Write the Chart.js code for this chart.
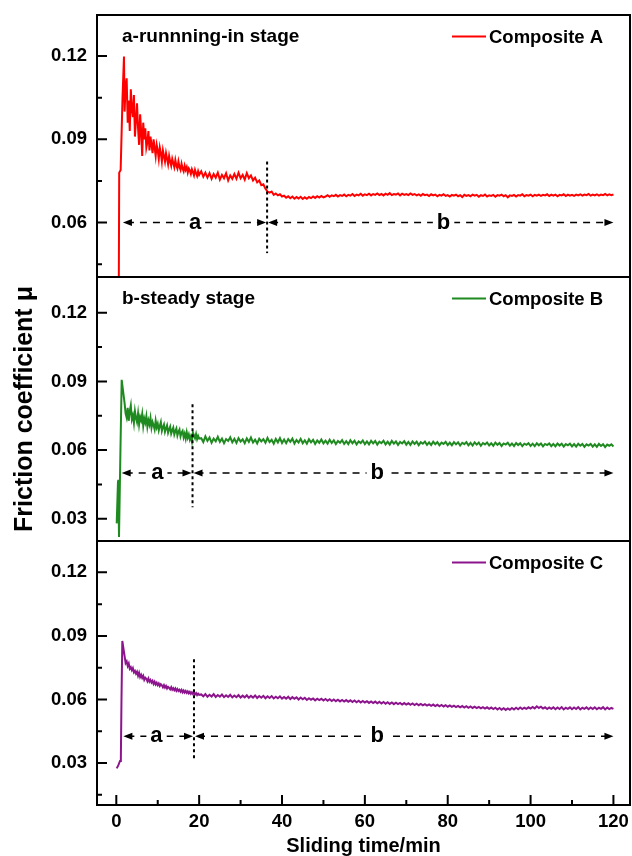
<!DOCTYPE html>
<html><head><meta charset="utf-8">
<script src="https://cdn.jsdelivr.net/npm/chart.js@4.4.1/dist/chart.umd.min.js"></script>
<style>html,body{margin:0;padding:0;background:#fff;}</style>
</head><body>
<canvas id="c" width="632" height="856"></canvas>
<script>
// ---------------- data ----------------
const seriesNames = ['Composite A', 'Composite B', 'Composite C'];
const seriesColors = ['#ff0000', '#1f8a1f', '#8c148c'];
const stageTitles = ['a-runnning-in stage', 'b-steady stage', ''];

// start-up (running-in onset) points: time (min) and friction coefficient
const startA_t = [0.6, 0.7, 1.05, 1.5, 1.85];
const startA_v = [0.035, 0.078, 0.079, 0.105, 0.1198];
const startB_t = [0.1, 0.4, 0.5, 0.65, 1.0, 1.3];
const startB_v = [0.028, 0.046, 0.047, 0.022, 0.060, 0.0907];
const startC_t = [0.1, 0.5, 0.9, 1.1, 1.25, 1.45];
const startC_v = [0.0275, 0.029, 0.031, 0.0325, 0.060, 0.0876];

// early record: 2.0 .. 20.0 min, every 0.25 min
const earlyStart = 2.0, earlyStep = 0.25;
const earlyA = [0.100,0.109,0.112,0.096,0.104,0.093,0.108,0.101,0.098,0.106,0.091,0.097,0.103,0.094,0.088,0.099,
0.093,0.084,0.096,0.090,0.094,0.087,0.089,0.093,0.086,0.091,0.088,0.085,0.090,0.087,0.084,0.088,
0.086,0.083,0.087,0.085,0.082,0.086,0.084,0.082,0.085,0.083,0.081,0.084,0.082,0.0805,0.083,0.0815,
0.080,0.0825,0.0805,0.0795,0.082,0.0800,0.0790,0.0812,0.0795,0.0785,0.0805,0.0790,0.0800,0.0780,0.0795,0.0788,
0.0775,0.0792,0.0782,0.0770,0.0790,0.0778,0.0768,0.0785,0.0772];
const earlyB = [0.0805,0.0760,0.0742,0.0785,0.0728,0.0770,0.0795,0.0735,0.0752,0.0718,0.0770,0.0740,0.0722,0.0760,0.0712,0.0745,
0.0730,0.0758,0.0705,0.0738,0.0720,0.0748,0.0702,0.0730,0.0712,0.0740,0.0698,0.0722,0.0708,0.0690,0.0728,0.0700,
0.0715,0.0686,0.0705,0.0722,0.0684,0.0700,0.0712,0.0680,0.0695,0.0708,0.0676,0.0690,0.0702,0.0672,0.0686,0.0698,
0.0668,0.0683,0.0694,0.0664,0.0680,0.0690,0.0660,0.0676,0.0684,0.0656,0.0672,0.0650,0.0678,0.0654,0.0668,0.0646,
0.0660,0.0638,0.0676,0.0664,0.0652,0.0670,0.0648,0.0662,0.0650];
const earlyC = [0.0805,0.0772,0.0780,0.0758,0.0770,0.0745,0.0752,0.0738,0.0748,0.0728,0.0735,0.0722,0.0731,0.0712,0.0726,0.0706,
0.0716,0.0702,0.0712,0.0693,0.0703,0.0698,0.0686,0.0699,0.0684,0.0692,0.0680,0.0688,0.0674,0.0684,0.0671,0.0679,
0.0668,0.0676,0.0664,0.0672,0.0667,0.0658,0.0668,0.0656,0.0664,0.0652,0.0660,0.0655,0.0648,0.0658,0.0646,0.0653,
0.0644,0.0652,0.0641,0.0649,0.0640,0.0646,0.0637,0.0645,0.0634,0.0642,0.0633,0.0640,0.0631,0.0638,0.0629,0.0636,
0.0627,0.0634,0.0626,0.0632,0.0624,0.0630,0.0621,0.0628,0.0622];

// later record: 20.5 .. 120 min, every 0.5 min
const lateStart = 20.5, lateStep = 0.5;
const lateA = [0.0785,0.0765,0.0780,0.0762,0.0778,0.0758,0.0775,0.0762,0.0780,0.0755,0.0772,0.0760,0.0778,0.0752,0.0770,0.0758,
0.0775,0.0758,0.0780,0.0760,0.0772,0.0755,0.0778,0.0760,0.0770,0.0752,
0.0762,0.0745,0.0752,0.0735,0.0738,0.0722,0.0712,
0.0708,0.0712,0.0700,0.0705,0.0698,0.0702,0.0694,
0.0697,0.0690,0.0695,0.0688,0.0694,0.0686,0.0692,0.0687,0.0693,0.0685,0.0691,0.0686,0.0692,0.0688,0.0694,0.0689,0.0695,0.0690,0.0696,0.0691,
0.0694,0.0699,0.0693,0.0698,0.0695,0.0700,0.0694,0.0699,0.0696,0.0701,
0.0695,0.0700,0.0697,0.0703,0.0696,0.0701,0.0698,0.0704,0.0697,0.0702,
0.0699,0.0704,0.0698,0.0703,0.0700,0.0705,0.0699,0.0703,0.0698,0.0704,
0.0700,0.0706,0.0699,0.0703,0.0701,0.0705,0.0698,0.0704,0.0700,0.0703,
0.0699,0.0705,0.0700,0.0703,0.0698,0.0702,0.0697,0.0703,0.0699,0.0701,
0.0696,0.0702,0.0698,0.0701,0.0695,0.0700,0.0697,0.0702,0.0696,0.0699,
0.0694,0.0700,0.0697,0.0701,0.0695,0.0699,0.0692,0.0700,0.0696,0.0699,
0.0695,0.0701,0.0697,0.0700,0.0693,0.0699,0.0696,0.0701,0.0694,0.0698,
0.0696,0.0700,0.0693,0.0699,0.0697,0.0701,0.0695,0.0699,0.0691,0.0698,
0.0696,0.0700,0.0694,0.0699,0.0697,0.0702,0.0695,0.0699,0.0697,0.0701,
0.0695,0.0700,0.0697,0.0701,0.0696,0.0700,0.0698,0.0702,0.0696,0.0701,
0.0697,0.0701,0.0695,0.0700,0.0698,0.0702,0.0696,0.0701,0.0697,0.0700,
0.0696,0.0701,0.0698,0.0702,0.0697,0.0701,0.0699,0.0703,0.0697,0.0701,
0.0698,0.0702,0.0697,0.0701,0.0699,0.0703,0.0698,0.0702,0.0699,0.0701];
const lateB = [0.0652,0.0635,0.0660,0.0640,0.0655,0.0632,0.0650,0.0638,0.0658,0.0636,
0.0650,0.0630,0.0648,0.0640,0.0656,0.0634,0.0649,0.0631,0.0652,0.0637,
0.0647,0.0630,0.0651,0.0636,0.0655,0.0633,0.0646,0.0629,0.0650,0.0638,
0.0648,0.0632,0.0653,0.0635,0.0645,0.0628,0.0649,0.0634,0.0652,0.0631,
0.0646,0.0630,0.0648,0.0636,0.0650,0.0629,0.0644,0.0633,0.0649,0.0630,
0.0643,0.0628,0.0647,0.0634,0.0645,0.0627,0.0642,0.0632,0.0646,0.0629,
0.0641,0.0628,0.0645,0.0631,0.0643,0.0626,0.0640,0.0632,0.0644,0.0627,
0.0639,0.0626,0.0643,0.0630,0.0641,0.0625,0.0638,0.0631,0.0642,0.0626,
0.0638,0.0625,0.0641,0.0629,0.0640,0.0624,0.0637,0.0630,0.0641,0.0625,
0.0637,0.0624,0.0640,0.0628,0.0638,0.0623,0.0636,0.0629,0.0639,0.0624,
0.0636,0.0623,0.0638,0.0627,0.0637,0.0622,0.0635,0.0628,0.0637,0.0623,
0.0634,0.0622,0.0637,0.0626,0.0635,0.0621,0.0633,0.0627,0.0636,0.0622,
0.0633,0.0621,0.0635,0.0625,0.0634,0.0620,0.0632,0.0626,0.0635,0.0621,
0.0632,0.0620,0.0634,0.0624,0.0633,0.0619,0.0631,0.0625,0.0633,0.0620,
0.0630,0.0619,0.0633,0.0623,0.0631,0.0618,0.0629,0.0624,0.0632,0.0619,
0.0629,0.0618,0.0631,0.0622,0.0630,0.0617,0.0628,0.0623,0.0630,0.0618,
0.0628,0.0617,0.0630,0.0621,0.0629,0.0616,0.0627,0.0622,0.0629,0.0617,
0.0627,0.0616,0.0629,0.0620,0.0628,0.0615,0.0626,0.0621,0.0628,0.0616,
0.0626,0.0615,0.0628,0.0619,0.0627,0.0614,0.0625,0.0620,0.0627,0.0615,
0.0625,0.0614,0.0627,0.0618,0.0626,0.0613,0.0624,0.0619,0.0625,0.0616];
const lateC = [0.0624,0.0615,0.0626,0.0613,0.0622,0.0614,0.0625,0.0612,0.0621,0.0613,
0.0623,0.0611,0.0620,0.0612,0.0622,0.0610,0.0619,0.0611,0.0621,0.0609,
0.0618,0.0610,0.0620,0.0608,0.0617,0.0609,0.0619,0.0607,0.0616,0.0608,
0.0617,0.0606,0.0615,0.0607,0.0616,0.0605,0.0613,0.0606,0.0615,0.0604,
0.0612,0.0604,0.0613,0.0602,0.0611,0.0603,0.0610,0.0600,0.0609,0.0601,
0.0608,0.0598,0.0606,0.0599,0.0605,0.0596,0.0604,0.0597,0.0603,0.0595,
0.0602,0.0594,0.0601,0.0593,0.0600,0.0592,0.0599,0.0591,0.0598,0.0590,
0.0597,0.0589,0.0596,0.0588,0.0595,0.0587,0.0594,0.0586,0.0593,0.0586,
0.0592,0.0584,0.0591,0.0583,0.0590,0.0582,0.0589,0.0581,0.0588,0.0580,
0.0587,0.0579,0.0586,0.0578,0.0585,0.0578,0.0584,0.0576,0.0583,0.0576,
0.0582,0.0575,0.0581,0.0574,0.0580,0.0573,0.0579,0.0572,0.0578,0.0571,
0.0577,0.0570,0.0576,0.0569,0.0575,0.0568,0.0574,0.0567,0.0573,0.0566,
0.0572,0.0565,0.0571,0.0564,0.0570,0.0563,0.0569,0.0562,0.0568,0.0561,
0.0567,0.0560,0.0566,0.0559,0.0565,0.0558,0.0564,0.0557,0.0563,0.0556,
0.0562,0.0555,0.0561,0.0553,0.0560,0.0552,0.0559,0.0551,0.0558,0.0552,
0.0560,0.0553,0.0561,0.0554,0.0562,0.0555,0.0561,0.0556,0.0563,0.0557,
0.0565,0.0558,0.0568,0.0560,0.0566,0.0557,0.0563,0.0555,0.0562,0.0556,
0.0563,0.0554,0.0562,0.0555,0.0564,0.0553,0.0561,0.0556,0.0563,0.0554,
0.0562,0.0555,0.0564,0.0553,0.0561,0.0556,0.0563,0.0554,0.0562,0.0555,
0.0563,0.0554,0.0561,0.0556,0.0564,0.0553,0.0562,0.0555,0.0560,0.0556];

// stage annotations (per panel)
const boundaryX = [36.4, 18.4, 18.75];
const boundaryTop = [0.082, 0.080, 0.079];
const boundaryBottom = [0.049, 0.035, 0.031];
const arrowY = [0.060, 0.050, 0.0426];
const arrowStartX = [1.6, 1.3, 1.7];
const arrowEndX = 120;
const labelAX = [19.0, 9.9, 9.7];
const labelBX = [79, 63, 63];

// axes
const xMin = -4.66, xMax = 124.0;
const xTickValues = [0, 20, 40, 60, 80, 100, 120];
const xMinorValues = [10, 30, 50, 70, 90, 110];
const yMin = [0.0404, 0.0203, 0.0102];
const yMax = [0.1348, 0.1356, 0.1348];
const yTickValues = [[0.06, 0.09, 0.12], [0.03, 0.06, 0.09, 0.12], [0.03, 0.06, 0.09, 0.12]];
const yMinorValues = [[0.045, 0.075, 0.105], [0.045, 0.075, 0.105], [0.015, 0.045, 0.075, 0.105]];
const panelWeights = [262, 264, 264];

// ---------------- build ----------------
const FONT = "'Liberation Sans', Arial, Helvetica, sans-serif";
const panelIds = ['yA', 'yB', 'yC'];
function buildPoints(st, sv, early, late) {
  const pts = st.map((t, i) => ({x: t, y: sv[i]}));
  early.forEach((v, i) => pts.push({x: earlyStart + i * earlyStep, y: v}));
  late.forEach((v, i) => pts.push({x: lateStart + i * lateStep, y: v}));
  return pts;
}
const seriesPoints = [
  buildPoints(startA_t, startA_v, earlyA, lateA),
  buildPoints(startB_t, startB_v, earlyB, lateB),
  buildPoints(startC_t, startC_v, earlyC, lateC)
];

function yScale(p, withTitle) {
  return {
    type: 'linear', position: 'left', stack: 'panels', stackWeight: panelWeights[p],
    min: yMin[p], max: yMax[p],
    grid: {display: false, drawTicks: false}, border: {display: false},
    afterBuildTicks: s => { s.ticks = yTickValues[p].map(v => ({value: v})); },
    afterFit: s => { s.width = 97; s.paddingTop = 0; s.paddingBottom = 0; },
    ticks: {autoSkip: false, padding: 10, color: '#000',
      font: {family: FONT, size: 18.5, weight: 'bold'},
      callback: v => Number(v).toFixed(2)},
    title: {display: withTitle, text: 'Friction coefficient \u03bc', color: '#000',
      font: {family: FONT, size: 25, weight: 'bold', lineHeight: 1},
      padding: {top: 13, bottom: 0}}
  };
}

const panelPlugin = {
  id: 'panelDecor',
  afterDatasetsDraw(chart) {
    const ctx = chart.ctx, xs = chart.scales.x, area = chart.chartArea;
    const L = area.left, R = area.right;
    panelIds.forEach((id, p) => {
      const ys = chart.scales[id];
      const T = ys.top, B = ys.bottom;
      ctx.save();
      ctx.strokeStyle = '#000'; ctx.fillStyle = '#000';
      // y ticks (inward)
      ctx.lineWidth = 2; ctx.setLineDash([]);
      ctx.beginPath();
      yTickValues[p].forEach(v => { const y = ys.getPixelForValue(v); ctx.moveTo(L, y); ctx.lineTo(L + 10, y); });
      yMinorValues[p].forEach(v => { const y = ys.getPixelForValue(v); ctx.moveTo(L, y); ctx.lineTo(L + 5, y); });
      if (p === panelIds.length - 1) {
        xTickValues.forEach(v => { const x = xs.getPixelForValue(v); ctx.moveTo(x, B); ctx.lineTo(x, B - 10); });
        xMinorValues.forEach(v => { const x = xs.getPixelForValue(v); ctx.moveTo(x, B); ctx.lineTo(x, B - 5); });
      }
      ctx.stroke();
      // frame
      ctx.lineWidth = 2;
      ctx.strokeRect(L, T, R - L, B - T);

      // stage boundary (dotted)
      const bx = xs.getPixelForValue(boundaryX[p]);
      ctx.lineWidth = 2; ctx.setLineDash([3, 3]);
      ctx.beginPath();
      ctx.moveTo(bx, ys.getPixelForValue(boundaryTop[p]));
      ctx.lineTo(bx, ys.getPixelForValue(boundaryBottom[p]));
      ctx.stroke();

      // dashed arrow lines
      const ay = ys.getPixelForValue(arrowY[p]);
      const sx = xs.getPixelForValue(arrowStartX[p]);
      const ex = xs.getPixelForValue(arrowEndX);
      ctx.lineWidth = 1.5; ctx.setLineDash([7, 6]);
      ctx.beginPath();
      ctx.moveTo(sx + 4, ay); ctx.lineTo(bx - 4, ay);
      ctx.moveTo(bx + 4, ay); ctx.lineTo(ex - 4, ay);
      ctx.stroke();
      ctx.setLineDash([]);
      function head(tipX, dir) {
        ctx.beginPath();
        ctx.moveTo(tipX, ay);
        ctx.lineTo(tipX - dir * 9, ay - 3.5);
        ctx.lineTo(tipX - dir * 9, ay + 3.5);
        ctx.closePath(); ctx.fill();
      }
      head(sx, -1); head(bx - 1, 1); head(bx + 1, -1); head(ex, 1);
      // stage letters
      ctx.font = 'bold 22px ' + FONT;
      ctx.textAlign = 'center'; ctx.textBaseline = 'alphabetic';
      [['a', labelAX[p]], ['b', labelBX[p]]].forEach(([txt, xv]) => {
        const lx = xs.getPixelForValue(xv);
        const w = ctx.measureText(txt).width;
        ctx.fillStyle = '#fff';
        ctx.fillRect(lx - w / 2 - 4, ay - 4, w + 8, 8);
        ctx.fillStyle = '#000';
        ctx.fillText(txt, lx, ay + 6);
      });

      // stage title
      if (stageTitles[p]) {
        ctx.font = 'bold 19px ' + FONT;
        ctx.textAlign = 'left';
        ctx.fillText(stageTitles[p], L + 25, T + 27);
      }
      // legend
      ctx.strokeStyle = seriesColors[p]; ctx.lineWidth = 2;
      ctx.beginPath();
      ctx.moveTo(R - 178, T + 21.5); ctx.lineTo(R - 144, T + 21.5);
      ctx.stroke();
      ctx.fillStyle = '#000';
      ctx.font = 'bold 18.5px ' + FONT;
      ctx.textAlign = 'left';
      ctx.fillText(seriesNames[p], R - 141, T + 28);
      ctx.restore();
    });
  }
};

new Chart(document.getElementById('c'), {
  type: 'line',
  data: {
    datasets: seriesPoints.map((pts, i) => ({
      label: seriesNames[i], data: pts, yAxisID: panelIds[i],
      borderColor: seriesColors[i], borderWidth: 2,
      pointRadius: 0, tension: 0, fill: false
    }))
  },
  options: {
    responsive: false, animation: false, devicePixelRatio: 1,
    layout: {padding: {top: 15, right: 2, left: 0, bottom: 0}},
    plugins: {legend: {display: false}, tooltip: {enabled: false}},
    scales: {
      x: {
        type: 'linear', position: 'bottom', min: xMin, max: xMax,
        grid: {display: false, drawTicks: false}, border: {display: false},
        afterBuildTicks: s => { s.ticks = xTickValues.map(v => ({value: v})); },
        afterFit: s => { s.height = 51; s.paddingLeft = 0; s.paddingRight = 0; },
        ticks: {autoSkip: false, padding: 6, color: '#000', maxRotation: 0,
          font: {family: FONT, size: 18.5, weight: 'bold'}},
        title: {display: true, text: 'Sliding time/min', color: '#000',
          font: {family: FONT, size: 20, weight: 'bold', lineHeight: 1},
          padding: {top: 0, bottom: 0}}
      },
      yC: yScale(2, false),
      yB: yScale(1, true),
      yA: yScale(0, false)
    }
  },
  plugins: [panelPlugin]
});
</script>
</body></html>
